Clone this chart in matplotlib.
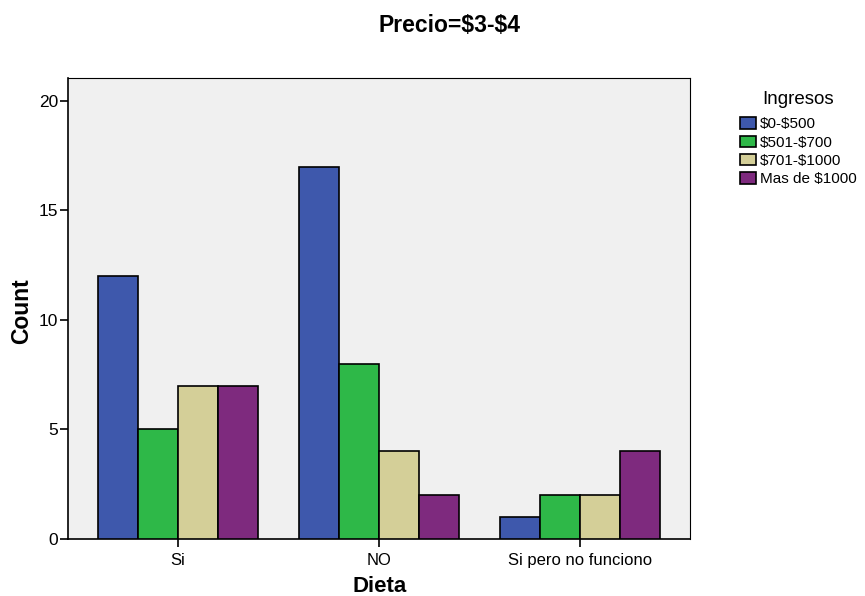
import matplotlib
matplotlib.use("Agg")
import matplotlib.pyplot as plt
import numpy as np
from matplotlib.patches import Patch

plt.rcParams['font.family'] = ['Liberation Sans', 'DejaVu Sans']
plt.rcParams['text.parse_math'] = False

categories = ["Si", "NO", "Si pero no funciono"]
series_names = ["$0-$500", "$501-$700", "$701-$1000", "Mas de $1000"]
values_0_500 = [12, 17, 1]
values_501_700 = [5, 8, 2]
values_701_1000 = [7, 4, 2]
values_mas_1000 = [7, 2, 4]
colors = ["#3E58AC", "#2EB848", "#D4CF98", "#7E2A7E"]

series = [values_0_500, values_501_700, values_701_1000, values_mas_1000]

fig = plt.figure(figsize=(8.65, 5.96), dpi=100)
ax = fig.add_axes([68/865, 57/596, 622/865, 461/596])
ax.set_facecolor("#F0F0F0")

x = np.arange(len(categories))
w = 0.2
for i, (vals, c) in enumerate(zip(series, colors)):
    ax.bar(x + (i - 1.5) * w, vals, width=w, color=c, edgecolor="black", linewidth=1.2, zorder=3)

ax.set_xlim(-0.547, 2.547)
ax.set_ylim(0, 21.05)
ax.set_yticks([0, 5, 10, 15, 20])
ax.set_xticks(x)
ax.set_xticklabels(categories, fontsize=12)
ax.tick_params(axis='y', labelsize=12.5, length=6, width=1.2, direction='out', pad=1)
ax.tick_params(axis='x', length=6, width=1.2, direction='out', pad=4)
for s in ax.spines.values():
    s.set_linewidth(1.2)
ax.spines['top'].set_linewidth(0.8)
ax.spines['right'].set_linewidth(0.8)

fig.text(22/865, 1 - 311/596, "Count", ha='center', va='center', rotation=90,
         fontsize=16.5, fontweight='bold')
fig.text(380/865, 1 - 586/596, "Dieta", ha='center', va='center', fontsize=16, fontweight='bold')
fig.text(450/865, 1 - 25/596, "Precio=$3-$4", ha='center', va='center', fontsize=16.5, fontweight='bold')

handles = [Patch(facecolor=c, edgecolor='black', linewidth=1.2, label=n) for c, n in zip(colors, series_names)]
leg = fig.legend(handles=handles, title="Ingresos", loc='upper left',
                 bbox_to_anchor=(729/865, 1 - 80/596), frameon=False,
                 fontsize=11, title_fontsize=13.5, handlelength=1.05, handleheight=0.75,
                 handletextpad=0.3, labelspacing=0.28, borderpad=0.2)
leg._legend_box.align = "center"
leg._legend_box.sep = 7

fig.savefig("out.png", dpi=100)
